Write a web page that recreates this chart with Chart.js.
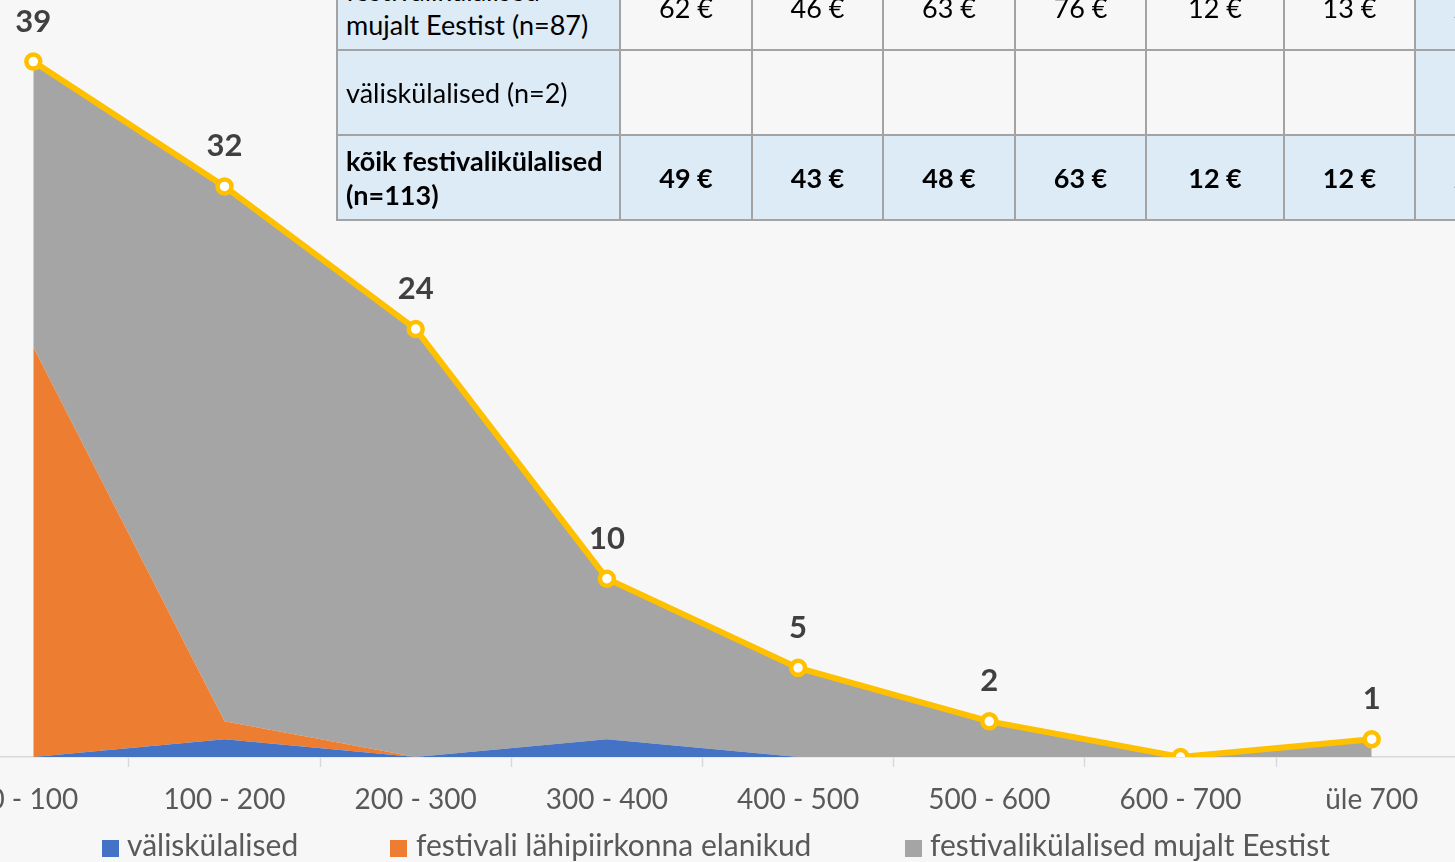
<!DOCTYPE html>
<html><head><meta charset="utf-8">
<script src="https://cdn.jsdelivr.net/npm/chart.js@4.4.1/dist/chart.umd.min.js"></script>
<style>
html,body{margin:0;padding:0;width:1455px;height:862px;overflow:hidden;background:#F7F7F7;font-family:Lato,sans-serif;}
#cv{position:absolute;left:-80px;top:-60px;}
#tbl{position:absolute;left:336px;top:-36px;border-collapse:collapse;table-layout:fixed;width:1209px;font-size:27px;color:#000;font-family:Lato,sans-serif;}
#tbl td{border:2px solid #A3A3A3;height:83px;padding:0;text-align:center;vertical-align:middle;line-height:34px;background:#F7F7F7;white-space:nowrap;overflow:hidden;}
#tbl td.h{text-align:left;padding-left:8px;background:#DDEBF7;}
#tbl td.b{background:#DDEBF7;}
#tbl tr.tot td{font-weight:bold;background:#DDEBF7;}
.lg{position:absolute;top:826px;line-height:36px;font-size:30px;color:#595959;white-space:nowrap;}
.bx{position:absolute;top:840px;width:17px;height:17px;}
</style>
</head><body>
<canvas id="cv" width="1560" height="900"></canvas>
<table id="tbl"></table>
<div id="legend"></div>
<script>
// ---- data ----
const categories = ['0 - 100','100 - 200','200 - 300','300 - 400','400 - 500','500 - 600','600 - 700','üle 700'];
const valiskulalised = [0, 1, 0, 1, 0, 0, 0, 0];
const lahipiirkond   = [23, 1, 0, 0, 0, 0, 0, 0];
const mujaltEestist  = [16, 30, 24, 9, 5, 2, 0, 1];
const koikKulalised  = [39, 32, 24, 10, 5, 2, 0, 1];
const seriesNames = ['väliskülalised','festivali lähipiirkonna elanikud','festivalikülalised mujalt Eestist','kõik festivalikülalised'];
const seriesColors = ['#4472C4','#ED7D31','#A5A5A5','#FFC000'];
// table (cropped summary table)
const tableColWidths = [283,132,131,132,131,138,131,131];
const tableRowLabels = ['festivalikülalised<br>mujalt Eestist (n=87)','väliskülalised (n=2)','kõik festivalikülalised<br>(n=113)'];
const tableRowMujalt = ['62 €','46 €','63 €','76 €','12 €','13 €','24 €'];
const tableRowValis  = ['','','','','','',''];
const tableRowKoik   = ['49 €','43 €','48 €','63 €','12 €','12 €','22 €'];

// ---- table ----
(function(){
  const t = document.getElementById('tbl');
  let cg = '<colgroup>' + tableColWidths.map(w=>'<col style="width:'+w+'px">').join('') + '</colgroup>';
  const rows = [tableRowMujalt, tableRowValis, tableRowKoik];
  let html = cg;
  rows.forEach((r,ri)=>{
    html += '<tr' + (ri===2?' class="tot"':'') + '><td class="h">' + tableRowLabels[ri] + '</td>';
    r.forEach((v,ci)=>{ html += '<td' + (ci===r.length-1?' class="b"':'') + '>' + v + '</td>'; });
    html += '</tr>';
  });
  t.innerHTML = html;
})();

// ---- legend (HTML) ----
(function(){
  const lg = document.getElementById('legend');
  const pos = [[102,127],[390,416],[905,930]];
  let h='';
  for(let i=0;i<3;i++){
    h += '<div class="bx" style="left:'+pos[i][0]+'px;background:'+seriesColors[i]+'"></div>';
    h += '<div class="lg" style="left:'+pos[i][1]+'px">'+seriesNames[i]+'</div>';
  }
  lg.innerHTML = h;
})();

const labelPlugin = {
  id:'pointLabels',
  afterDatasetsDraw(chart){
    const ctx = chart.ctx;
    const meta = chart.getDatasetMeta(3);
    ctx.save();
    ctx.font = 'bold 31px Lato';
    ctx.fillStyle = '#404040';
    ctx.textAlign = 'center';
    ctx.textBaseline = 'middle';
    meta.data.forEach((pt,i)=>{
      if (koikKulalised[i] === 0) return;
      ctx.fillText(String(koikKulalised[i]), pt.x, pt.y - 40);
    });
    ctx.restore();
  }
};

function areaDs(i, data, fill){
  return {label: seriesNames[i], data, backgroundColor: seriesColors[i], borderColor: seriesColors[i],
    borderWidth: 0, pointRadius: 0, pointHoverRadius: 0, fill, stack: 'areas', tension: 0, order: 0};
}

function draw(){
  new Chart(document.getElementById('cv'), {
    type: 'line',
    data: {
      labels: categories,
      datasets: [
        areaDs(0, valiskulalised, 'origin'),
        areaDs(1, lahipiirkond, '-1'),
        areaDs(2, mujaltEestist, '-1'),
        {label: seriesNames[3], data: koikKulalised, borderColor: seriesColors[3], borderWidth: 6,
         pointRadius: 7, pointBorderWidth: 4.5, pointBackgroundColor: '#FFFFFF', pointBorderColor: seriesColors[3],
         fill: false, stack: 'total', tension: 0, order: -1}
      ]
    },
    options: {
      responsive: false,
      devicePixelRatio: 1,
      animation: false,
      layout: {padding: {left: 17.7, right: 12.7, top: 14.6, bottom: 0}},
      plugins: {legend: {display: false}, tooltip: {enabled: false}},
      scales: {
        x: {
          offset: true,
          grid: {offset: true, drawOnChartArea: false, drawTicks: true, tickLength: 10, color: '#D9D9D9', tickWidth: 1.5},
          border: {display: true, color: '#D9D9D9', width: 1.5},
          ticks: {font: {family: 'Lato', size: 28}, color: '#595959', padding: 16, maxRotation: 0, autoSkip: false},
          afterFit(s){ s.height = 83; }
        },
        y: {display: false, stacked: true, min: 0, max: 45}
      }
    },
    plugins: [labelPlugin]
  });
}
if (document.fonts && document.fonts.load) {
  Promise.all([document.fonts.load('28px Lato'), document.fonts.load('bold 31px Lato')]).then(draw, draw);
} else draw();
</script>
</body></html>
